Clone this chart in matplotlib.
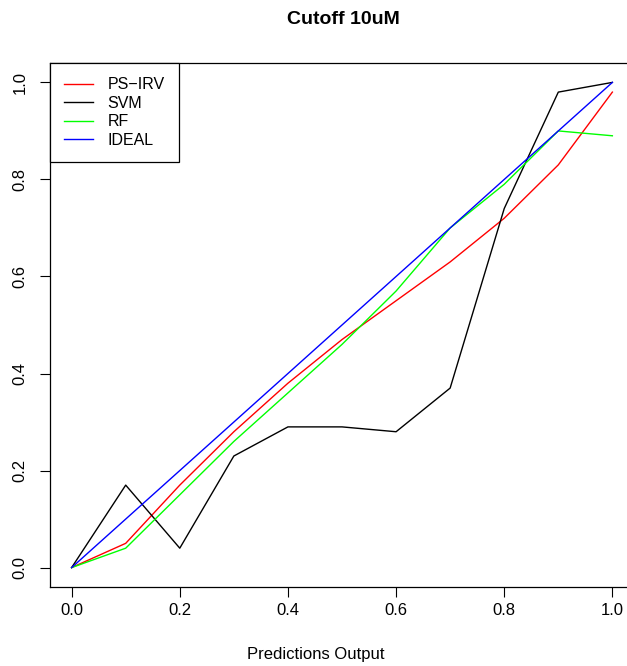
import matplotlib.pyplot as plt

plt.rcParams['font.family'] = ['Liberation Sans', 'DejaVu Sans']

x = [0.0, 0.1, 0.2, 0.3, 0.4, 0.5, 0.6, 0.7, 0.8, 0.9, 1.0]
ps_irv = [0.0, 0.05, 0.17, 0.28, 0.38, 0.47, 0.55, 0.63, 0.72, 0.83, 0.98]
svm = [0.0, 0.17, 0.04, 0.23, 0.29, 0.29, 0.28, 0.37, 0.74, 0.98, 1.0]
rf = [0.0, 0.04, 0.15, 0.26, 0.36, 0.46, 0.57, 0.70, 0.79, 0.90, 0.89]
ideal = [0.0, 0.1, 0.2, 0.3, 0.4, 0.5, 0.6, 0.7, 0.8, 0.9, 1.0]
ticks = [0.0, 0.2, 0.4, 0.6, 0.8, 1.0]

fig = plt.figure(figsize=(6.27, 6.66), dpi=100)
# plot region runs past the right edge, like the cropped original
ax = fig.add_axes([50 / 627, 79 / 666, 584 / 627, 524 / 666])

ax.plot(x, ps_irv, color='red', lw=1, label='PS\u2212IRV')
ax.plot(x, svm, color='black', lw=1, label='SVM')
ax.plot(x, rf, color='#00ff00', lw=1, label='RF')
ax.plot(x, ideal, color='blue', lw=1, label='IDEAL')

ax.set_xlim(-0.04, 1.04)
ax.set_ylim(-0.04, 1.04)
ax.set_xticks(ticks)
ax.set_yticks(ticks)
ax.set_xticklabels(['%.1f' % t for t in ticks])
ax.set_yticklabels(['%.1f' % t for t in ticks], rotation=90, va='center')
ax.tick_params(axis='both', direction='out', length=7.2, width=0.8, labelsize=12)
ax.tick_params(axis='x', pad=4)
ax.tick_params(axis='y', pad=9)
for s in ax.spines.values():
    s.set_linewidth(0.9)
ax.spines['right'].set_visible(False)

leg = ax.legend(loc='upper left', borderaxespad=0, fancybox=False, edgecolor='black',
                framealpha=1, fontsize=11.5, handlelength=1.8, handletextpad=0.9,
                borderpad=0.9, labelspacing=0.22)
leg.get_frame().set_linewidth(0.9)

fig.text(0.548, 1 - 20 / 666, 'Cutoff 10uM', ha='center', va='center',
         fontsize=14, fontweight='bold')
fig.text(0.504, 1 - 655 / 666, 'Predictions Output', ha='center', va='center', fontsize=12)

fig.savefig('out.png', dpi=100)
